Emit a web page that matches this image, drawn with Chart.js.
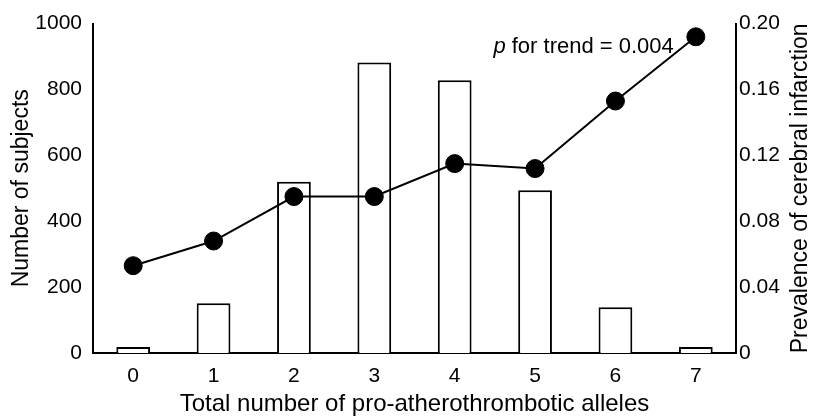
<!DOCTYPE html>
<html>
<head>
<meta charset="utf-8">
<script src="https://cdn.jsdelivr.net/npm/chart.js@4"></script>
<style>
  html, body { margin: 0; padding: 0; background: #fff; }
  #wrap { width: 816px; height: 416px; }
</style>
</head>
<body>
<div id="wrap"><canvas id="chart" width="816" height="416"></canvas></div>
<script>
const alleleCounts = ['0', '1', '2', '3', '4', '5', '6', '7'];
const subjectCounts = [18, 151, 520, 882, 828, 494, 139, 18];
const infarctionPrevalence = [0.053, 0.068, 0.095, 0.095, 0.115, 0.112, 0.153, 0.192];
const leftTicks = [0, 200, 400, 600, 800, 1000];
const rightTicks = [0, 0.04, 0.08, 0.12, 0.16, 0.20];

const FONT = 'Liberation Sans, Arial, Helvetica, sans-serif';
const TICK_SIZE = 21;
const TITLE_SIZE = 23;

// annotation and the right-hand title (Chart.js would rotate it the other way)
const extraText = {
    id: 'extraText',
    afterDraw(chart) {
        const ctx = chart.ctx;
        const xs = chart.scales.x;
        const ys = chart.scales.y1;
        const area = chart.chartArea;

        const xRight = xs.getPixelForValue(7) - 22;
        const yMid = ys.getPixelForValue(0.2) + 23;
        const rest = ' for trend = 0.004';
        ctx.save();
        ctx.fillStyle = '#000';
        ctx.textBaseline = 'middle';
        ctx.textAlign = 'left';
        ctx.font = '22px ' + FONT;
        const wRest = ctx.measureText(rest).width;
        ctx.font = 'italic 22px ' + FONT;
        const wP = ctx.measureText('p').width;
        const x0 = xRight - wRest - wP;
        ctx.fillText('p', x0, yMid);
        ctx.font = '22px ' + FONT;
        ctx.fillText(rest, x0 + wP, yMid);

        ctx.translate(chart.width - 15, (area.top + area.bottom) / 2);
        ctx.rotate(-Math.PI / 2);
        ctx.textAlign = 'center';
        ctx.font = TITLE_SIZE + 'px ' + FONT;
        ctx.fillText('Prevalence of cerebral infarction', 0, 0);
        ctx.restore();
    }
};

new Chart(document.getElementById('chart'), {
    data: {
        labels: alleleCounts,
        datasets: [{
            type: 'line',
            label: 'Prevalence of cerebral infarction',
            data: infarctionPrevalence,
            yAxisID: 'y1',
            borderColor: '#000',
            borderWidth: 2,
            backgroundColor: '#000',
            pointRadius: 9,
            pointBorderWidth: 1,
            tension: 0,
            order: 0
        }, {
            type: 'bar',
            label: 'Number of subjects',
            data: subjectCounts,
            yAxisID: 'y',
            backgroundColor: '#fff',
            borderColor: '#000',
            borderWidth: 2,
            barPercentage: 0.42,
            categoryPercentage: 1,
            order: 1
        }]
    },
    options: {
        responsive: false,
        animation: false,
        layout: { padding: { top: 22, left: 0, right: 0, bottom: 0 } },
        plugins: {
            legend: { display: false },
            tooltip: { enabled: false }
        },
        scales: {
            x: {
                offset: true,
                grid: { display: false, drawTicks: false },
                border: { display: true, color: '#000', width: 2 },
                ticks: { color: '#000', font: { family: FONT, size: TICK_SIZE }, padding: 11 },
                title: {
                    display: true,
                    text: 'Total number of pro-atherothrombotic alleles',
                    color: '#000',
                    font: { family: FONT, size: 24 },
                    padding: { top: 0, bottom: -3 }
                },
                afterFit(scale) { scale.height = 63; }
            },
            y: {
                position: 'left',
                min: 0,
                max: 1000,
                afterBuildTicks(scale) { scale.ticks = leftTicks.map(v => ({ value: v })); },
                grid: { display: false, drawTicks: false },
                border: { display: true, color: '#000', width: 2 },
                ticks: {
                    color: '#000',
                    font: { family: FONT, size: TICK_SIZE },
                    padding: 11,
                    callback: v => String(v)
                },
                title: {
                    display: true,
                    text: 'Number of subjects',
                    color: '#000',
                    font: { family: FONT, size: TITLE_SIZE },
                    padding: { top: 8, bottom: 0 }
                },
                afterFit(scale) { scale.width = 93; }
            },
            y1: {
                position: 'right',
                min: 0,
                max: 0.2,
                afterBuildTicks(scale) { scale.ticks = rightTicks.map(v => ({ value: v })); },
                grid: { display: false, drawTicks: false },
                border: { display: true, color: '#000', width: 2 },
                ticks: {
                    color: '#000',
                    font: { family: FONT, size: TICK_SIZE },
                    padding: 3,
                    callback: v => (v === 0 ? '0' : v.toFixed(2))
                },
                title: { display: false },
                afterFit(scale) { scale.width = 80; }
            }
        }
    },
    plugins: [extraText]
});
</script>
</body>
</html>
